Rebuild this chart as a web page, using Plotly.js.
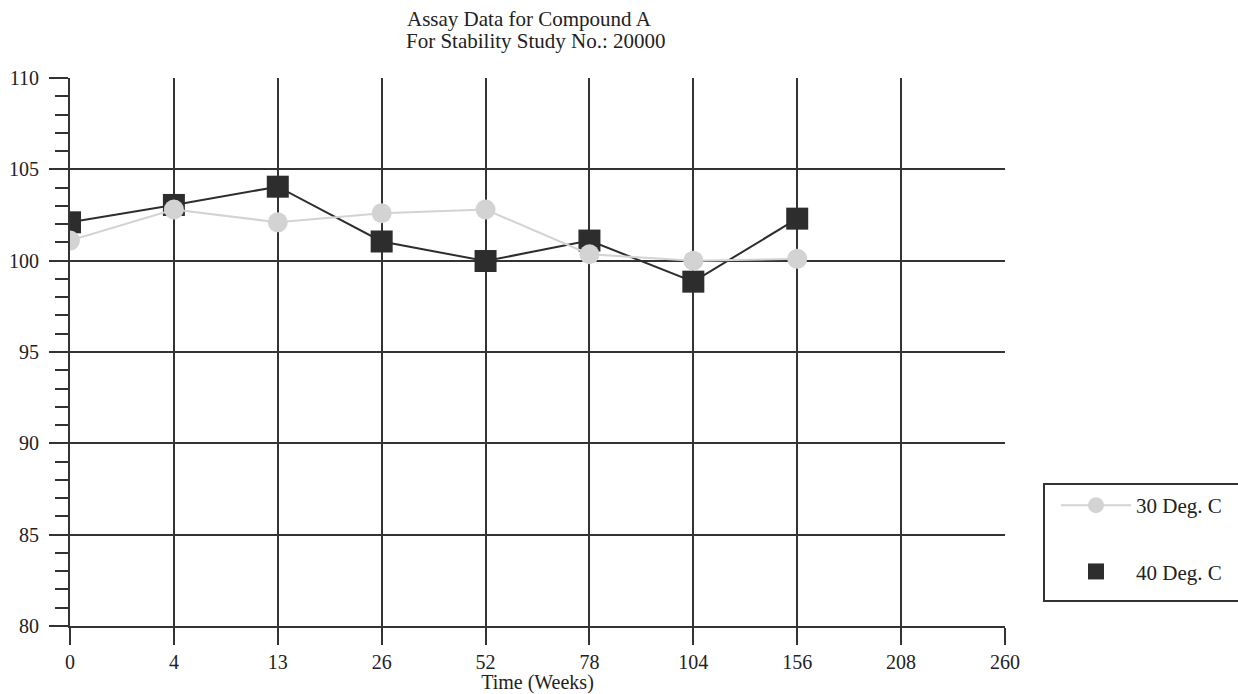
<!DOCTYPE html>
<html>
<head>
<meta charset="utf-8">
<script src="https://cdn.plot.ly/plotly-3.0.1.min.js"></script>
<style>html,body{margin:0;padding:0;background:#fff;}#chart{width:1238px;height:694px;}</style>
</head>
<body>
<div id="chart"></div>
<script>
const weeks = ["0", "4", "13", "26", "52", "78", "104", "156", "208", "260"];
const seriesNames = ["30 Deg. C", "40 Deg. C"];
const xData = ["0", "4", "13", "26", "52", "78", "104", "156"];
const assay30 = [101.1, 102.8, 102.1, 102.6, 102.8, 100.35, 100.0, 100.1];
const assay40 = [102.1, 103.05, 104.05, 101.05, 99.98, 101.1, 98.85, 102.3];
const xTitle = "Time (Weeks)";
const titleLines = ["Assay Data for Compound A", "For Stability Study No.: 20000"];

const FONT = "Liberation Serif, Times New Roman, serif";
const DARK = "#2d2d2d";
const LIGHT = "#d3d3d3";
const TXT = "#222";
const titleX = (407 - 70) / 935;

const traces = [
  {x: xData, y: assay40, mode: "lines", line: {color: DARK, width: 2}, showlegend: false, hoverinfo: "skip", name: seriesNames[1]},
  {x: xData, y: assay40, mode: "markers", marker: {symbol: "square", size: 22, color: DARK}, name: seriesNames[1], legendgroup: "b", legendrank: 2},
  {x: xData, y: assay30, mode: "lines+markers", line: {color: LIGHT, width: 2}, marker: {symbol: "circle", size: 20, color: LIGHT}, name: seriesNames[0], legendgroup: "a", legendrank: 1}
];

const layout = {
  width: 1238, height: 694,
  paper_bgcolor: "#fff", plot_bgcolor: "#fff",
  font: {family: FONT, size: 20, color: TXT},
  margin: {l: 70, r: 233, t: 78, b: 68, autoexpand: false},
  title: {text: titleLines[0], x: titleX, xref: "paper", xanchor: "left", yref: "container", y: 1 - 19 / 694, yanchor: "middle", font: {family: FONT, size: 21, color: TXT}},
  annotations: [
    {text: titleLines[1], xref: "paper", x: (404 - 70) / 935, xanchor: "left", yref: "paper", y: (626 - 41) / 548, yanchor: "middle", showarrow: false, font: {family: FONT, size: 21, color: TXT}}
  ],
  shapes: [
    {type: "rect", xref: "paper", yref: "paper", x0: (1044 - 70) / 935, x1: (1250 - 70) / 935, y0: (626 - 601) / 548, y1: (626 - 484) / 548, line: {color: "#333", width: 2}, fillcolor: "rgba(0,0,0,0)"}
  ],
  xaxis: {
    type: "category", categoryorder: "array", categoryarray: weeks,
    range: [0, 9], showgrid: true, gridcolor: "#333", gridwidth: 2,
    showline: true, linecolor: "#333", linewidth: 2, zeroline: false,
    ticks: "outside", ticklen: 17, tickwidth: 2, tickcolor: "#333",
    tickfont: {family: FONT, size: 20, color: TXT},
    title: {text: xTitle, font: {family: FONT, size: 20, color: TXT}, standoff: 0},
    fixedrange: true
  },
  yaxis: {
    range: [80, 110], dtick: 5, tick0: 80, showgrid: true, gridcolor: "#333", gridwidth: 2,
    showline: true, linecolor: "#333", linewidth: 2, zeroline: false,
    ticks: "outside", ticklen: 19, tickwidth: 2, tickcolor: "#333",
    ticklabelstandoff: 6,
    tickfont: {family: FONT, size: 20, color: TXT},
    minor: {dtick: 1, ticks: "outside", ticklen: 13, tickwidth: 2, tickcolor: "#333", showgrid: false},
    fixedrange: true
  },
  showlegend: true,
  legend: {
    x: (1056 - 70) / 935, xanchor: "left", y: (626 - 485) / 548, yanchor: "top",
    borderwidth: 0, bgcolor: "rgba(0,0,0,0)",
    font: {family: FONT, size: 21, color: TXT},
    traceorder: "grouped", tracegroupgap: 36, itemwidth: 70
  }
};

Plotly.newPlot("chart", traces, layout, {displayModeBar: false, staticPlot: true});
</script>
</body>
</html>
